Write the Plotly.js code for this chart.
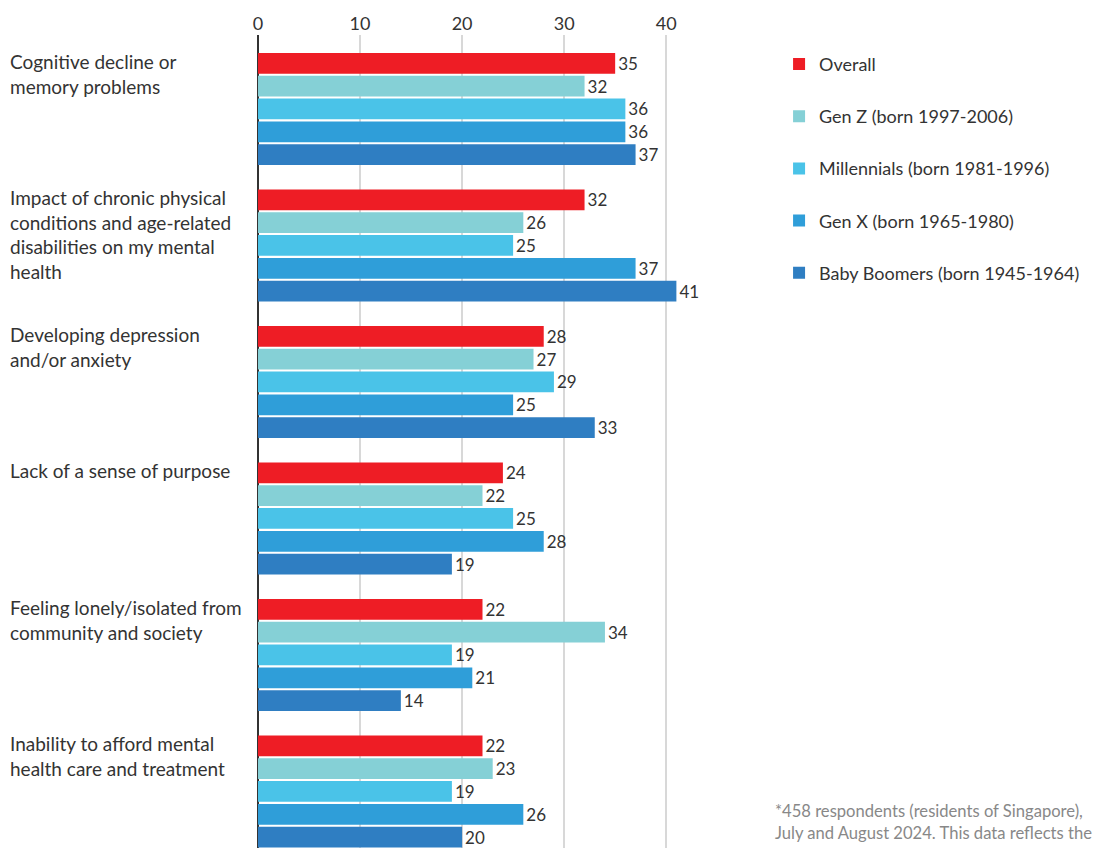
<!DOCTYPE html>
<html>
<head>
<meta charset="utf-8">
<script src="https://cdn.plot.ly/plotly-3.0.1.min.js"></script>
<style>html,body{margin:0;padding:0;background:#fff;}#chart{width:1101px;height:848px;}</style>
</head>
<body>
<div id="chart"></div>
<script>
const categories = [
  "Cognitive decline or<br>memory problems",
  "Impact of chronic physical<br>conditions and age-related<br>disabilities on my mental<br>health",
  "Developing depression<br>and/or anxiety",
  "Lack of a sense of purpose",
  "Feeling lonely/isolated from<br>community and society",
  "Inability to afford mental<br>health care and treatment"
];
const seriesNames = [
  "Overall",
  "Gen Z (born 1997-2006)",
  "Millennials (born 1981-1996)",
  "Gen X (born 1965-1980)",
  "Baby Boomers (born 1945-1964)"
];
const overall     = [35, 32, 28, 24, 22, 22];
const genZ        = [32, 26, 27, 22, 34, 23];
const millennials = [36, 25, 29, 25, 19, 19];
const genX        = [36, 37, 25, 28, 21, 26];
const boomers     = [37, 41, 33, 19, 14, 20];
const seriesValues = [overall, genZ, millennials, genX, boomers];
const seriesColors = ["#EE1D25", "#85D0D6", "#4AC3E8", "#2F9ED9", "#2F7EC2"];
const tickValues = [0, 10, 20, 30, 40];
const footnote = "*458 respondents (residents of Singapore),<br>July and August 2024. This data reflects the";

const FONT = 'Lato, "Noto Sans", sans-serif';
const TXT = '#333333';

const catIds = categories.map((c, i) => "c" + i);

const traces = seriesValues.map((vals, i) => ({
  type: 'bar',
  orientation: 'h',
  name: seriesNames[i],
  legendgroup: 'g' + i,
  x: vals,
  y: catIds,
  marker: {color: seriesColors[i], line: {width: 0}},
  text: vals.map(String),
  textposition: 'outside',
  constraintext: 'none',
  cliponaxis: false,
  textfont: {family: FONT, size: 17, color: TXT},
  hoverinfo: 'x+name'
}));

const annotations = categories.map((c, i) => ({
  xref: 'paper', yref: 'y',
  x: -0.5568, y: catIds[i],
  xanchor: 'left', yanchor: 'top',
  yshift: 61,
  align: 'left',
  showarrow: false,
  text: c,
  font: {family: FONT, size: 19, color: TXT}
}));
annotations.push({
  xref: 'paper', yref: 'paper',
  x: 1.1470, y: 0.06,
  xanchor: 'left', yanchor: 'top',
  align: 'left',
  showarrow: false,
  text: footnote,
  font: {family: FONT, size: 16.6, color: '#888888'}
});

const layout = {
  width: 1101, height: 848,
  margin: {l: 258, r: 394, t: 35, b: 0, pad: 0},
  paper_bgcolor: '#ffffff',
  plot_bgcolor: '#ffffff',
  font: {family: FONT, color: TXT},
  barmode: 'group',
  bargap: 0.165,
  bargroupgap: 0.09,
  showlegend: true,
  legend: {
    x: 1.1605, y: 0.9867, xanchor: 'left', yanchor: 'top',
    font: {family: FONT, size: 18, color: TXT},
    tracegroupgap: 25.8,
    traceorder: 'grouped',
    bgcolor: 'rgba(0,0,0,0)'
  },
  xaxis: {
    side: 'top',
    range: [0, 44],
    tickvals: tickValues,
    ticktext: tickValues.map(String),
    ticks: '',
    showgrid: true,
    gridcolor: '#D8D8D8',
    gridwidth: 1.5,
    zeroline: true,
    zerolinecolor: '#333333',
    zerolinewidth: 1.5,
    showline: false,
    tickfont: {family: FONT, size: 18, color: TXT},
    fixedrange: true
  },
  yaxis: {
    type: 'category',
    categoryorder: 'array',
    categoryarray: catIds,
    range: [5.414, -0.542],
    showticklabels: false,
    showgrid: false,
    zeroline: false,
    showline: false,
    ticks: '',
    fixedrange: true
  },
  annotations: annotations
};

Plotly.newPlot('chart', traces, layout, {displayModeBar: false, staticPlot: true});
</script>
</body>
</html>
